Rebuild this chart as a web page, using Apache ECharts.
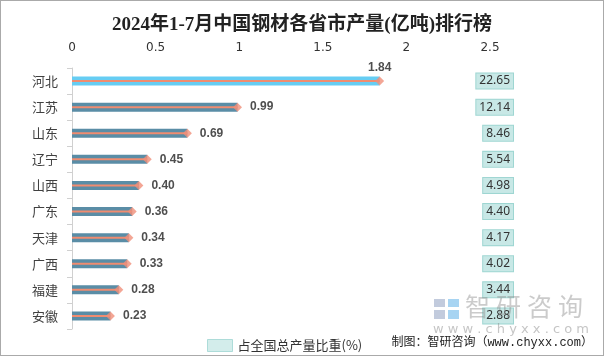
<!DOCTYPE html>
<html>
<head>
<meta charset="utf-8">
<script src="https://cdn.jsdelivr.net/npm/echarts@6/dist/echarts.min.js"></script>
<style>
html,body{margin:0;padding:0;background:#fff;}
#c{width:602px;height:354px;border:1px solid #aaa;}
</style>
</head>
<body>
<div id="c"></div>
<script>
var categories = ['河北','江苏','山东','辽宁','山西','广东','天津','广西','福建','安徽'];
var output = [1.84,0.99,0.69,0.45,0.40,0.36,0.34,0.33,0.28,0.23];
var shares = [22.65,12.14,8.46,5.54,4.98,4.40,4.17,4.02,3.44,2.88];
var xTicks = [0,0.5,1,1.5,2,2.5];

var chart = echarts.init(document.getElementById('c'));
var shareName = '占全国总产量比重(%)';
var wmChars = ['智','研','咨','询'];
var graphics = [
  {type:'rect',shape:{x:433,y:298,width:11,height:8},style:{fill:'rgba(120,140,180,0.45)'},z:100},
  {type:'rect',shape:{x:433,y:309,width:11,height:9},style:{fill:'rgba(120,140,180,0.45)'},z:100},
  {type:'rect',shape:{x:447,y:298,width:11,height:8},style:{fill:'rgba(80,170,230,0.5)'},z:100},
  {type:'rect',shape:{x:447,y:309,width:11,height:9},style:{fill:'rgba(80,170,230,0.5)'},z:100},
  {type:'text',left:432,top:322,z:100,style:{text:'w w w . c h y x x . c o m',fontSize:13,fill:'rgba(140,140,140,0.5)',fontFamily:'"DejaVu Sans", sans-serif'}},
  {type:'text',right:10,top:336,z:100,style:{text:'制图：智研咨询（www.chyxx.com）',fontSize:12,fill:'#222',fontFamily:'"Liberation Mono", "Noto Sans CJK SC", monospace'}}
];
wmChars.forEach(function(ch,i){
  graphics.push({type:'text',left:464+i*31,top:293,z:100,style:{text:ch,fontSize:25,fill:'rgba(140,140,140,0.45)',fontFamily:'"Noto Sans CJK SC", sans-serif'}});
});

chart.setOption({
  animation:false,
  title:{
    text:'2024年1-7月中国钢材各省市产量(亿吨)排行榜',
    left:'center', top:10,
    textStyle:{fontFamily:'Liberation Serif, "Noto Sans CJK SC"',fontSize:19,fontWeight:'bold',color:'#222'}
  },
  legend:{
    left:201, top:333, itemWidth:25, itemHeight:12,
    data:[{name:shareName, icon:'rect', itemStyle:{color:'#c8e8e6',borderColor:'#9ed6d2',borderWidth:1}}],
    textStyle:{fontSize:13,color:'#333',fontFamily:'"Noto Sans CJK SC", sans-serif'}
  },
  grid:{left:71, right:113, top:67, bottom:26, containLabel:false},
  xAxis:[{
    type:'value', position:'top', min:xTicks[0], max:xTicks[xTicks.length-1], interval:0.5,
    axisLine:{show:false}, axisTick:{show:false}, splitLine:{show:false},
    axisLabel:{margin:14,fontSize:12,color:'#333',fontFamily:'"DejaVu Sans", sans-serif'}
  }],
  yAxis:[{
    type:'category', inverse:true, data:categories,
    axisLine:{lineStyle:{color:'#d0d0d0'}},
    axisTick:{show:true,length:5,lineStyle:{color:'#d0d0d0'}},
    axisLabel:{margin:14,fontSize:13,color:'#404040',fontFamily:'"Noto Sans CJK SC", sans-serif'}
  },{
    type:'category', inverse:true, data:categories, position:'right',
    axisLine:{show:false}, axisTick:{show:false},
    axisLabel:{
      margin:23, align:'right',
      formatter:function(v,i){return shares[i].toFixed(2);},
      fontSize:12, color:'#333', fontFamily:'"Noto Sans", sans-serif',
      backgroundColor:'#c8e8e6', borderColor:'#9ed6d2', borderWidth:1, padding:[2,3,1,3]
    }
  }],
  series:[{
    type:'bar', yAxisIndex:0, barWidth:9, z:1,
    data:output.map(function(v,i){return {value:v,itemStyle:{color:i===0?'#66cdf3':'#5a8da6'}};})
  },{
    type:'bar', yAxisIndex:1, barWidth:2, z:2,
    itemStyle:{color:'#f08c70'},
    data:output
  },{
    type:'scatter', yAxisIndex:0, z:3,
    symbol:'diamond', symbolSize:[9,9],
    itemStyle:{color:'#f0907a'},
    label:{show:true,position:'right',distance:8,fontSize:12,fontWeight:'bold',color:'#222',fontFamily:'"Liberation Sans", sans-serif',
      formatter:function(p){return p.value[0].toFixed(2);}},
    data:output.map(function(v,i){
      var d={value:[v,categories[i]]};
      if(i===0){d.label={position:'top',distance:3};}
      return d;
    })
  },{
    type:'scatter', name:shareName, data:[]
  }],
  graphic:graphics
});
</script>
</body>
</html>
